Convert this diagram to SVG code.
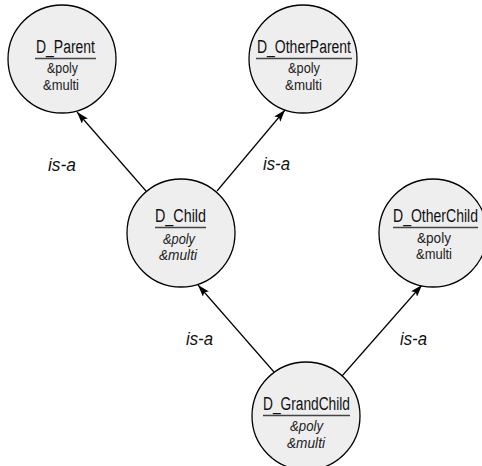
<svg xmlns="http://www.w3.org/2000/svg" width="482" height="466" viewBox="0 0 482 466">
  <defs>
    <marker id="arrow" viewBox="0 0 12 8" refX="12" refY="4" markerWidth="12" markerHeight="8" markerUnits="userSpaceOnUse" orient="auto">
      <path d="M0,0 L12,4 L0,8 L2.5,4 Z" fill="#000"/>
    </marker>
    <style>
      .node circle { fill: #eeeeef; stroke: #000; stroke-width: 1.3; }
      .title { font-family: "Liberation Sans Narrow", "Liberation Sans", Arial, sans-serif; font-size: 18px; fill: #111; text-anchor: middle; }
      .rule { stroke: #444; stroke-width: 1.6; }
      .attr { font-family: "Liberation Sans Narrow", "Liberation Sans", Arial, sans-serif; font-size: 14.5px; fill: #222; text-anchor: middle; }
      .it { font-style: italic; }
      .edge { stroke: #000; stroke-width: 1.2; fill: none; marker-end: url(#arrow); }
      .label { font-family: "Liberation Sans Narrow", "Liberation Sans", Arial, sans-serif; font-size: 18px; font-style: italic; fill: #111; }
    </style>
  </defs>
  <rect width="482" height="466" fill="#fff"/>

  <!-- generalisation connectors -->
  <g id="connectors">
    <line class="edge" x1="146" y1="191" x2="77" y2="112"/>
    <line class="edge" x1="217" y1="191" x2="285" y2="110"/>
    <line class="edge" x1="274" y1="372" x2="198" y2="285"/>
    <line class="edge" x1="342" y1="376" x2="422" y2="285"/>
    <text class="label" x="48" y="171" textLength="28" lengthAdjust="spacingAndGlyphs">is-a</text>
    <text class="label" x="263" y="170" textLength="27" lengthAdjust="spacingAndGlyphs">is-a</text>
    <text class="label" x="186" y="345" textLength="27" lengthAdjust="spacingAndGlyphs">is-a</text>
    <text class="label" x="400" y="345" textLength="27" lengthAdjust="spacingAndGlyphs">is-a</text>
  </g>

  <g id="D_Parent" class="node">
    <circle cx="62" cy="59" r="54"/>
    <text class="title" x="65.5" y="53" textLength="59" lengthAdjust="spacingAndGlyphs">D_Parent</text>
    <line class="rule" x1="35" y1="58.5" x2="96" y2="58.5"/>
    <text class="attr" x="62.5" y="73" textLength="31" lengthAdjust="spacingAndGlyphs">&amp;poly</text>
    <text class="attr" x="61" y="90" textLength="36" lengthAdjust="spacingAndGlyphs">&amp;multi</text>
  </g>

  <g id="D_OtherParent" class="node">
    <circle cx="303" cy="59" r="54"/>
    <text class="title" x="304" y="53" textLength="94" lengthAdjust="spacingAndGlyphs">D_OtherParent</text>
    <line class="rule" x1="256" y1="58.5" x2="352" y2="58.5"/>
    <text class="attr" x="304" y="73" textLength="32" lengthAdjust="spacingAndGlyphs">&amp;poly</text>
    <text class="attr" x="303.5" y="90" textLength="37" lengthAdjust="spacingAndGlyphs">&amp;multi</text>
  </g>

  <g id="D_Child" class="node">
    <circle cx="181" cy="233" r="54"/>
    <text class="title" x="180.5" y="222" textLength="51" lengthAdjust="spacingAndGlyphs">D_Child</text>
    <line class="rule" x1="155" y1="227.5" x2="206" y2="227.5"/>
    <text class="attr it" x="179" y="244" textLength="32" lengthAdjust="spacingAndGlyphs">&amp;poly</text>
    <text class="attr it" x="178" y="260" textLength="38" lengthAdjust="spacingAndGlyphs">&amp;multi</text>
  </g>

  <g id="D_OtherChild" class="node">
    <circle cx="433" cy="233" r="54"/>
    <!-- condensed by a horizontal scale so the title stays inside the page -->
    <text class="title" transform="translate(435.5,222) scale(0.78,1)" x="0" y="0">D_OtherChild</text>
    <line class="rule" x1="393" y1="227.5" x2="478" y2="227.5"/>
    <text class="attr" x="434" y="243" textLength="34" lengthAdjust="spacingAndGlyphs">&amp;poly</text>
    <text class="attr" x="434" y="259" textLength="36" lengthAdjust="spacingAndGlyphs">&amp;multi</text>
  </g>

  <g id="D_GrandChild" class="node">
    <circle cx="306" cy="416" r="54"/>
    <text class="title" x="306.5" y="410" textLength="87" lengthAdjust="spacingAndGlyphs">D_GrandChild</text>
    <line class="rule" x1="263" y1="415.5" x2="350" y2="415.5"/>
    <text class="attr it" x="306.5" y="431" textLength="33" lengthAdjust="spacingAndGlyphs">&amp;poly</text>
    <text class="attr it" x="306" y="448" textLength="38" lengthAdjust="spacingAndGlyphs">&amp;multi</text>
  </g>
</svg>
